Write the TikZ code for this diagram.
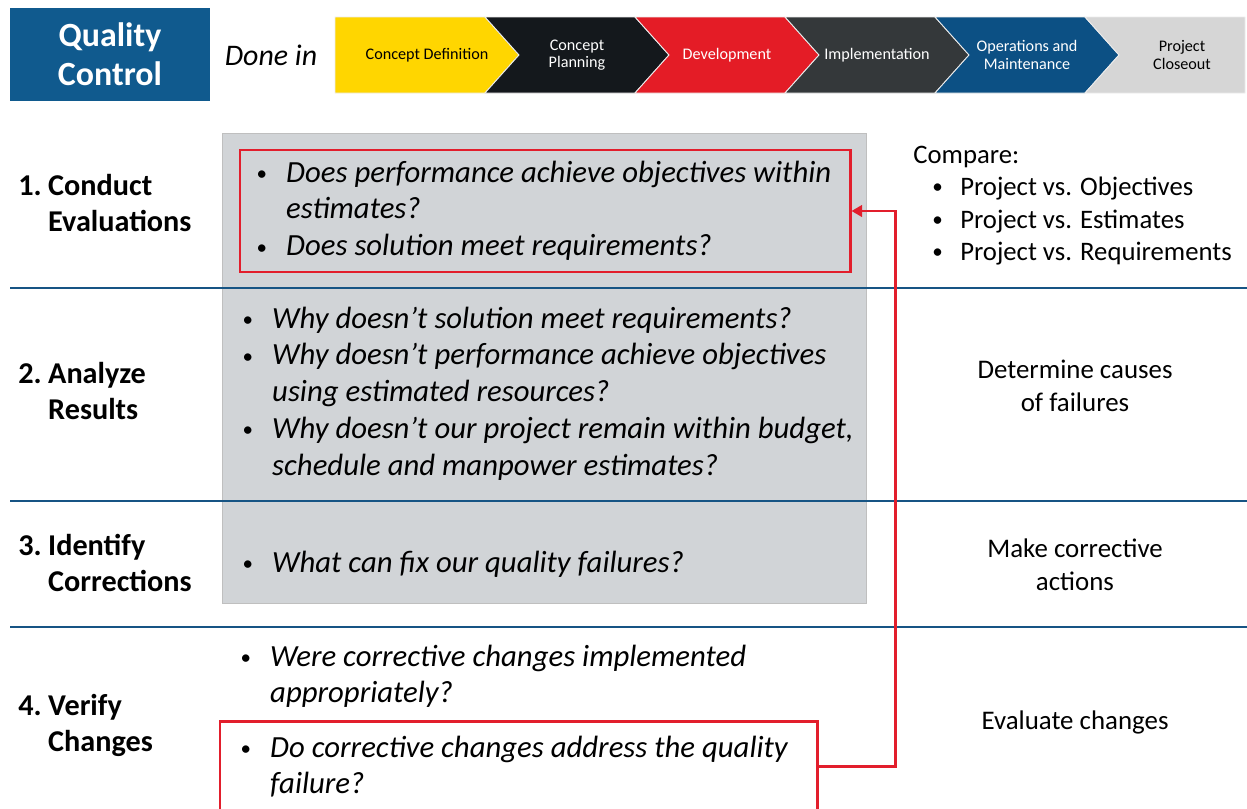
\documentclass[tikz,border=0pt]{standalone}
\usepackage{fontspec}
\setmainfont{Carlito}
\usetikzlibrary{positioning,fit,calc,arrows.meta}
\definecolor{qcblue}{RGB}{16,90,142}
\definecolor{lineblue}{RGB}{22,84,132}
\definecolor{qcred}{RGB}{226,30,44}
\definecolor{panelgray}{RGB}{209,212,215}
\definecolor{phyellow}{RGB}{255,214,0}
\definecolor{phblack}{RGB}{20,24,28}
\definecolor{phred}{RGB}{228,28,38}
\definecolor{phdark}{RGB}{52,56,58}
\definecolor{phblue}{RGB}{12,80,132}
\definecolor{phlight}{RGB}{214,214,214}
\newcommand{\qbul}{\raisebox{0.12ex}{\fontsize{12}{12}\selectfont\textbullet}}

\begin{document}
\begin{tikzpicture}[
    x=0.02cm, y=-0.02cm,
    rowlabel/.style={anchor=base west, inner sep=0, font=\fontsize{17.2}{21}\selectfont\bfseries},
    question/.style={anchor=base west, inner sep=0, font=\fontsize{17.5}{21}\selectfont\itshape},
    note/.style={align=center, inner sep=0, font=\fontsize{15.3}{18.5}\selectfont},
    phase/.style={align=center, inner sep=0, font=\fontsize{9.2}{9.8}\selectfont},
    redbox/.style={draw=qcred, line width=1.7pt, inner sep=0},
    rowline/.style={draw=lineblue, line width=1.6pt},
    arrow/.style={draw=qcred, line width=1.7pt, ->, >={Triangle[length=6pt,width=6.5pt]}}
]
\useasboundingbox (0,0) rectangle (1247,808);
\clip (0,0) rectangle (1247,808);

% Header
\node[fill=qcblue, minimum width=4cm, minimum height=1.86cm, text=white, align=center,
      font=\fontsize{19.3}{22}\selectfont\bfseries] (qc) at (110,54.5) {Quality\\Control};
\node[inner sep=0, font=\fontsize{17}{20}\selectfont\itshape] (donein) at (271,55) {Done in};

% Phase chevrons
\foreach \xa/\xb/\na/\nb/\col/\tcol/\lbl [count=\i] in {
    335/485/0/34/phyellow/black/{Concept Definition},
    485/635/34/34/phblack/white/{Concept\\Planning},
    635/785/34/34/phred/white/{Development},
    785/935/34/34/phdark/white/{Implementation},
    935/1085/34/34/phblue/white/{Operations and\\Maintenance},
    1085/1245/34/0/phlight/black/{Project\\Closeout}} {
  \fill[\col, draw=white!85!gray, line width=0.5pt] (\xa,17) -- (\xb,17) -- (\xb+\nb,55)
      -- (\xb,93) -- (\xa,93) -- (\xa+\na,55) -- cycle;
  \node[phase, text=\tcol] (phase\i) at ({(\xa+\xb)/2+17},55) {\lbl};
}

% Shaded questions panel
\fill[panelgray, draw=gray!50] (222,133) rectangle (866,603);

% Row separators
\draw[rowline] (10,288) -- (1247,288);
\draw[rowline] (10,501) -- (1247,501);
\draw[rowline] (10,627) -- (1247,627);

% Row labels
\node[rowlabel] (step1) at (18,195) {\begin{tabular}[t]{@{}p{17pt}@{}l@{}}1. & Conduct\\ & Evaluations\end{tabular}};
\node[rowlabel] (step2) at (18,383) {\begin{tabular}[t]{@{}p{17pt}@{}l@{}}2. & Analyze\\ & Results\end{tabular}};
\node[rowlabel] (step3) at (18,555) {\begin{tabular}[t]{@{}p{17pt}@{}l@{}}3. & Identify\\ & Corrections\end{tabular}};
\node[rowlabel] (step4) at (18,715) {\begin{tabular}[t]{@{}p{17pt}@{}l@{}}4. & Verify\\ & Changes\end{tabular}};

% Questions
\node[question] (evalq) at (256,182) {\begin{tabular}[t]{@{}p{17pt}@{}l@{}}
  \qbul & Does performance achieve objectives within\\
  & estimates?\\
  \qbul & Does solution meet requirements?
\end{tabular}};
\node[question] (analyzeq) at (242,328) {\begin{tabular}[t]{@{}p{17pt}@{}l@{}}
  \qbul & Why doesn’t solution meet requirements?\\
  \qbul & Why doesn’t performance achieve objectives\\
  & using estimated resources?\\
  \qbul & Why doesn’t our project remain within budget,\\
  & schedule and manpower estimates?
\end{tabular}};
\node[question] (identifyq) at (242,572) {\begin{tabular}[t]{@{}p{17pt}@{}l@{}}
  \qbul & What can fix our quality failures?
\end{tabular}};
\node[question] (verifyq) at (240,666) {\begin{tabular}[t]{@{}p{17pt}@{}l@{}}
  \qbul & Were corrective changes implemented\\
  & appropriately?
\end{tabular}};
\node[question] (addressq) at (240,757) {\begin{tabular}[t]{@{}p{17pt}@{}l@{}}
  \qbul & Do corrective changes address the quality\\
  & failure?
\end{tabular}};

% Right column notes
\node[anchor=base west, inner sep=0, font=\fontsize{15.2}{18.5}\selectfont] (compare) at (913,163)
  {\begin{tabular}[t]{@{}p{10.8pt}@{}p{15.9pt}@{}l@{}}
  \multicolumn{3}{@{}l@{}}{Compare:}\\
  & \qbul & Project vs. Objectives\\
  & \qbul & Project vs. Estimates\\
  & \qbul & Project vs. Requirements
  \end{tabular}};
\node[note] (causes) at (1075,386) {Determine causes\\of failures};
\node[note] (actions) at (1075,565) {Make corrective\\actions};
\node[note] (evalchg) at (1075,722) {Evaluate changes};

% Highlight boxes and feedback
\node[redbox, fit={(240,150) (850,272)}] (evalbox) {};
\node[redbox, fit={(220,721) (817,811)}] (verifybox) {};
\coordinate (bend) at (895,766);
\draw[arrow] (verifybox.east) -- (bend |- verifybox.east) -- (bend |- evalbox.east) -- (evalbox.east);

\end{tikzpicture}
\end{document}
